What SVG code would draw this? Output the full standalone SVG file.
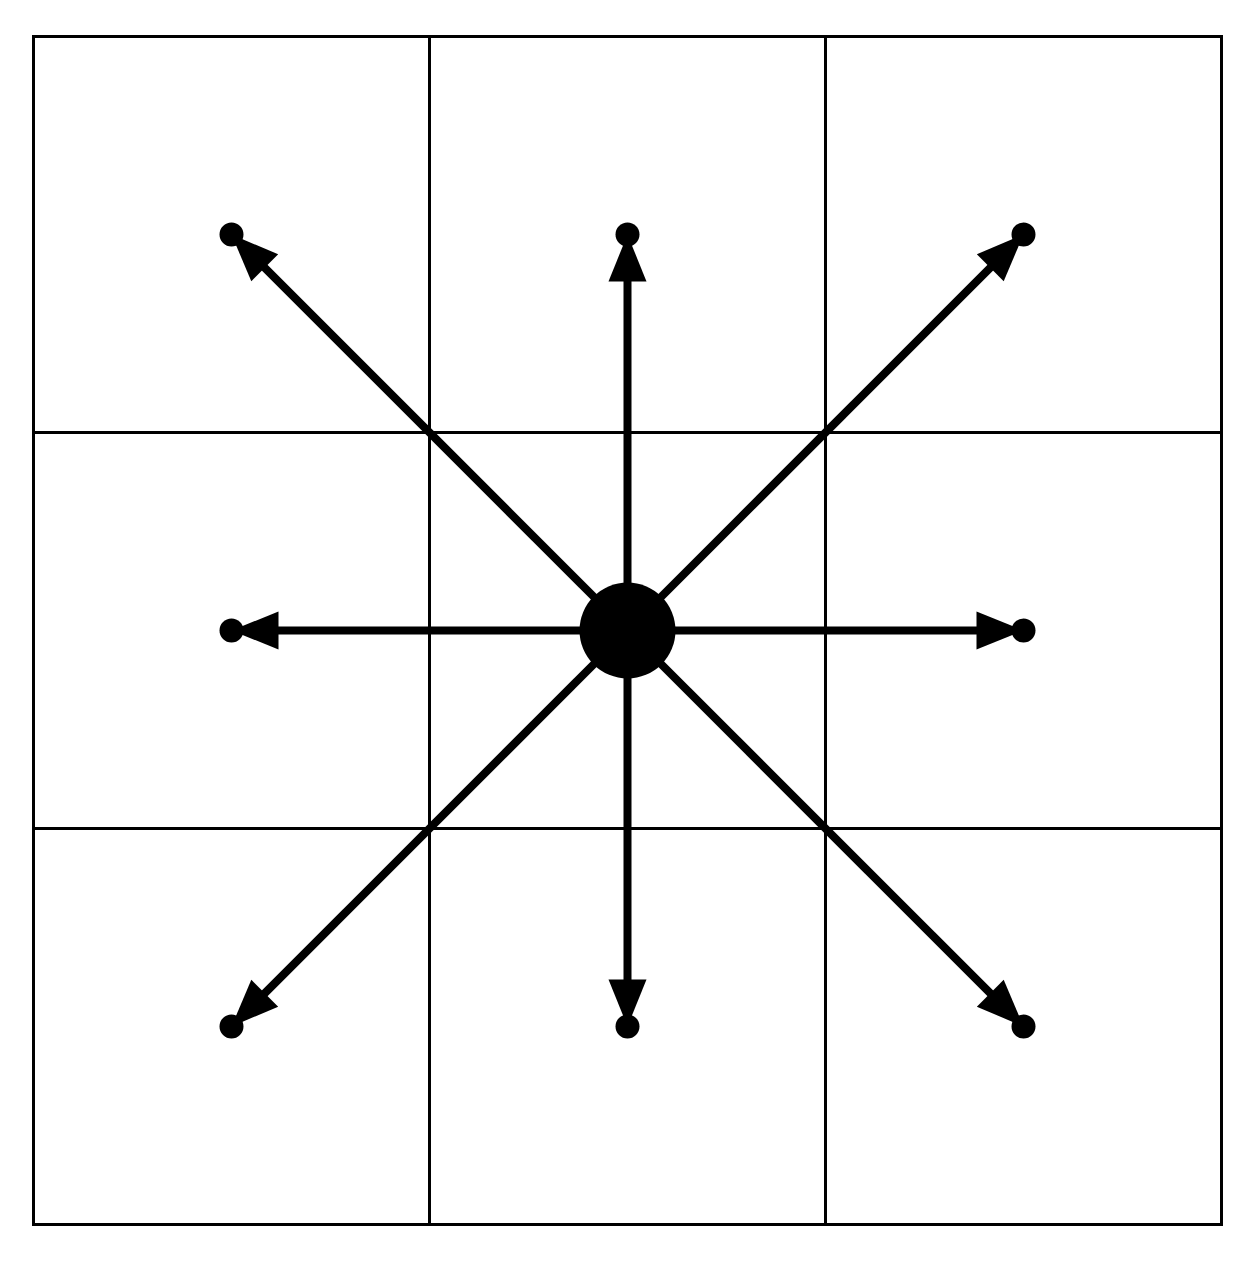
<svg xmlns="http://www.w3.org/2000/svg" width="1257" height="1267" viewBox="0 0 1257 1267">
<style>
.grid{fill:none;stroke:#000;stroke-width:3}
.arrow{stroke:#000;stroke-width:8;fill:none}
</style>
<defs>
<marker id="head" markerUnits="userSpaceOnUse" orient="auto" markerWidth="80" markerHeight="60" viewBox="-60 -30 80 60" refX="0" refY="0" overflow="visible">
<path d="M0,0 L-47,-19 L-47,19 Z" fill="#000"/>
<circle cx="0" cy="0" r="12" fill="#000"/>
</marker>
</defs>
<rect width="1257" height="1267" fill="#fff"/>
<g id="grid">
<rect class="grid" x="33.5" y="36.5" width="1188" height="1188"/>
<line class="grid" x1="429.5" y1="36.5" x2="429.5" y2="1224.5"/>
<line class="grid" x1="825.5" y1="36.5" x2="825.5" y2="1224.5"/>
<line class="grid" x1="33.5" y1="432.5" x2="1221.5" y2="432.5"/>
<line class="grid" x1="33.5" y1="828.5" x2="1221.5" y2="828.5"/>
</g>
<g id="connectors">
<line class="arrow" x1="627.5" y1="630.5" x2="231.5" y2="234.5" marker-end="url(#head)"/>
<line class="arrow" x1="627.5" y1="630.5" x2="627.5" y2="234.5" marker-end="url(#head)"/>
<line class="arrow" x1="627.5" y1="630.5" x2="1023.5" y2="234.5" marker-end="url(#head)"/>
<line class="arrow" x1="627.5" y1="630.5" x2="231.5" y2="630.5" marker-end="url(#head)"/>
<line class="arrow" x1="627.5" y1="630.5" x2="1023.5" y2="630.5" marker-end="url(#head)"/>
<line class="arrow" x1="627.5" y1="630.5" x2="231.5" y2="1026.5" marker-end="url(#head)"/>
<line class="arrow" x1="627.5" y1="630.5" x2="627.5" y2="1026.5" marker-end="url(#head)"/>
<line class="arrow" x1="627.5" y1="630.5" x2="1023.5" y2="1026.5" marker-end="url(#head)"/>
</g>
<g id="center">
<circle cx="627.5" cy="630.5" r="48" fill="#000"/>
</g>
</svg>
